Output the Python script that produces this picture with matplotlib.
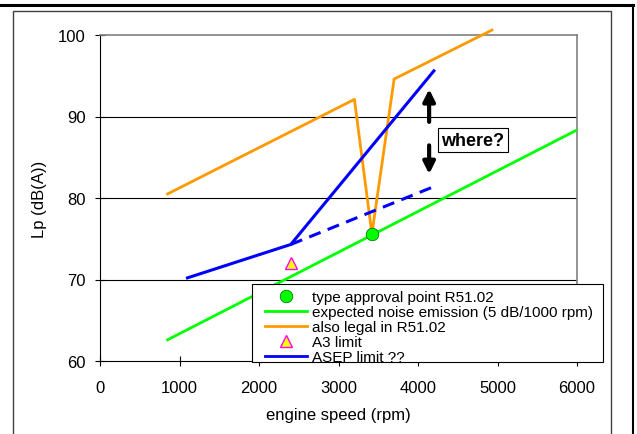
import matplotlib
matplotlib.use("Agg")
import matplotlib.pyplot as plt
from matplotlib.lines import Line2D
from matplotlib.patches import Rectangle

plt.rcParams['font.family'] = ['Liberation Sans', 'DejaVu Sans']

# Data
green_rpm = [850, 6000]
green_db = [62.6, 88.35]
tap_rpm = [3420]
tap_db = [75.6]
orange_rpm = [850, 3200, 3420, 3700, 4930]
orange_db = [80.5, 92.1, 75.6, 94.6, 100.6]
blue_rpm = [1100, 2400, 4200]
blue_db = [70.2, 74.3, 95.6]
blue_dash_rpm = [2400, 4200]
blue_dash_db = [74.3, 81.4]
a3_rpm = [2400]
a3_db = [72.0]
x_ticks = [0, 1000, 2000, 3000, 4000, 5000, 6000]
y_ticks = [60, 70, 80, 90, 100]

W, H = 637, 435
fig = plt.figure(figsize=(W / 100, H / 100), dpi=100)
ax = fig.add_axes([100 / W, 1 - 362 / H, 477 / W, 326 / H])

ax.set_xlim(0, 6000)
ax.set_ylim(60, 100)
for y in [70, 80, 90]:
    ax.axhline(y, color='black', lw=0.8, zorder=1)

ax.plot(green_rpm, green_db, color='#00ff00', lw=2, zorder=3)
ax.plot(orange_rpm, orange_db, color='#ff9900', lw=2, zorder=3, clip_on=False)
ax.plot(blue_rpm, blue_db, color='#0000ff', lw=2.2, zorder=4)
ax.plot(blue_dash_rpm, blue_dash_db, color='#0000ff', lw=2.2, ls=(0, (4, 2.5)), zorder=4)
ax.plot(tap_rpm, tap_db, 'o', color='#00ff00', mec='#008000', mew=0.6, ms=9, zorder=5)
ax.plot(a3_rpm, a3_db, '^', color='#ffff00', mec='#ff00ff', mew=1, ms=9, zorder=5)

# annotation arrows and text
ax.annotate('', xy=(4140, 93.7), xytext=(4140, 89.0),
            arrowprops=dict(arrowstyle='-|>,head_width=0.35,head_length=0.7', lw=3, color='black'),
            zorder=6)
ax.annotate('', xy=(4140, 82.6), xytext=(4140, 86.8),
            arrowprops=dict(arrowstyle='-|>,head_width=0.35,head_length=0.7', lw=3, color='black'),
            zorder=6)
ax.text(4690, 87.1, 'where?', fontsize=13, fontweight='bold', ha='center', va='center',
        bbox=dict(boxstyle='square,pad=0.2', fc='white', ec='black', lw=0.8), zorder=7)

ax.set_xticks(x_ticks)
ax.set_yticks(y_ticks)
ax.tick_params(direction='inout', length=7, width=0.8, labelsize=12, colors='black')
ax.tick_params(axis='x', pad=10)
ax.tick_params(axis='y', pad=7)
for s in ['top', 'right']:
    ax.spines[s].set_color('#808080')
    ax.spines[s].set_linewidth(1.2)
for s in ['left', 'bottom']:
    ax.spines[s].set_color('black')
    ax.spines[s].set_linewidth(0.8)

ax.set_xlabel('engine speed (rpm)', fontsize=12, labelpad=9)
ax.set_ylabel('Lp (dB(A))', fontsize=12, labelpad=8)

handles = [
    Line2D([], [], marker='o', ls='none', color='#00ff00', mec='#008000', mew=0.6, ms=9),
    Line2D([], [], color='#00ff00', lw=2),
    Line2D([], [], color='#ff9900', lw=2),
    Line2D([], [], marker='^', ls='none', color='#ffff00', mec='#ff00ff', mew=1, ms=8),
    Line2D([], [], color='#0000ff', lw=2),
]
labels = ['type approval point R51.02', 'expected noise emission (5 dB/1000 rpm)',
          'also legal in R51.02', 'A3 limit', 'ASEP limit ??']
# legend frame drawn manually
fig.add_artist(Rectangle((252 / W, 1 - 363 / H), (603 - 252) / W, (363 - 285) / H,
                         transform=fig.transFigure, fc='white', ec='black', lw=0.8, zorder=9))
leg = fig.legend(handles, labels, loc='upper left', bbox_to_anchor=(265 / W, 1 - 291 / H),
                 fontsize=11, frameon=False, labelspacing=0.065, handlelength=2.75,
                 handletextpad=0.3, borderpad=0, borderaxespad=0)
leg.set_zorder(10)

# outer frames
fig.add_artist(Rectangle((13 / W, -0.1), (611 - 13) / W, 1 - 12 / H + 0.1,
                         transform=fig.transFigure, fill=False, ec='#404040', lw=1.0))
fig.add_artist(Line2D([0, 633 / W], [1 - 6 / H, 1 - 6 / H], transform=fig.transFigure,
                      color='black', lw=2.2))
fig.add_artist(Line2D([633 / W, 633 / W], [1 - 6 / H, 0], transform=fig.transFigure,
                      color='black', lw=1.5))

fig.savefig('out.png', dpi=100)
